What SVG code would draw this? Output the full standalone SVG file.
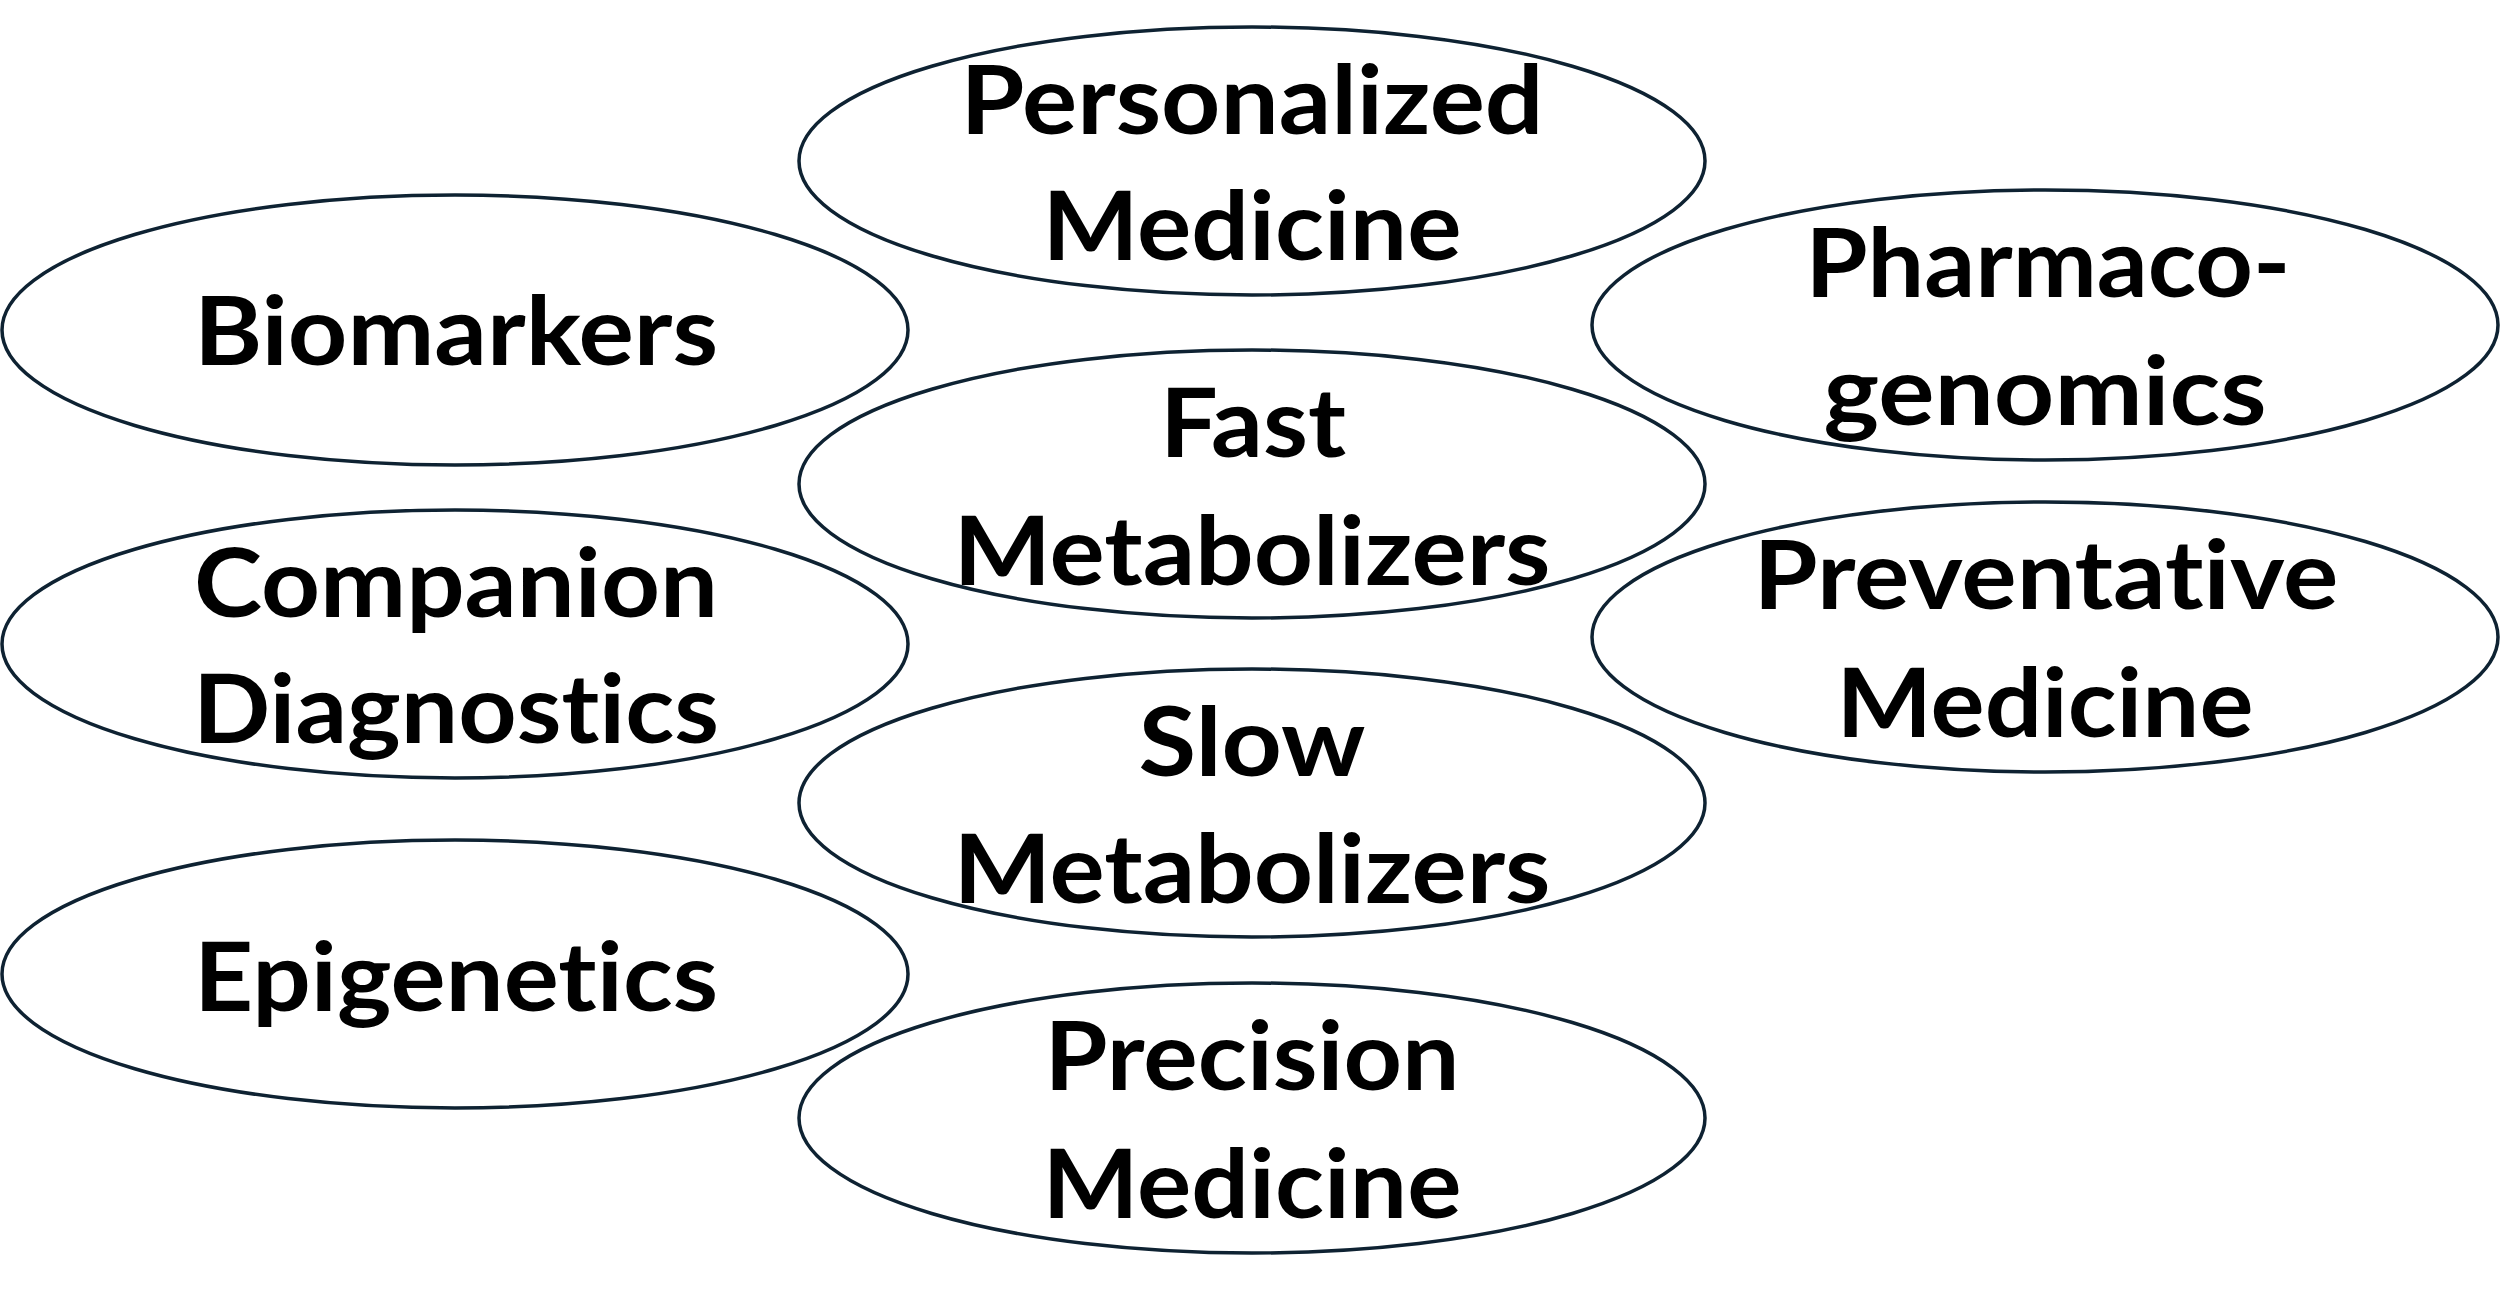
<svg xmlns="http://www.w3.org/2000/svg" width="2500" height="1311" viewBox="0 0 2500 1311">
<style>
.n ellipse{fill:#ffffff;stroke:#0e2232;stroke-width:3.5}
.n text{font-family:Lato,"Liberation Sans",sans-serif;font-weight:bold;font-size:95px;fill:#000000;text-anchor:middle;font-variant-ligatures:none;font-feature-settings:"liga" 0,"clig" 0,"dlig" 0}
</style>
<rect width="2500" height="1311" fill="#ffffff"/>
<g id="connectors"></g>
<g id="personalized" class="n">
<ellipse cx="1252" cy="161" rx="453" ry="134"/>
<text x="1252" y="134" textLength="583" lengthAdjust="spacingAndGlyphs">Personalized</text>
<text x="1252" y="260" textLength="419" lengthAdjust="spacingAndGlyphs">Medicine</text>
</g>
<g id="biomarkers" class="n">
<ellipse cx="455" cy="330" rx="453" ry="135"/>
<text x="456" y="365" textLength="524" lengthAdjust="spacingAndGlyphs">Biomarkers</text>
</g>
<g id="pharmacogenomics" class="n">
<ellipse cx="2045" cy="325" rx="453" ry="135"/>
<text x="2048" y="297" textLength="485" lengthAdjust="spacingAndGlyphs">Pharmaco-</text>
<text x="2045" y="425" textLength="443" lengthAdjust="spacingAndGlyphs">genomics</text>
</g>
<g id="fast" class="n">
<ellipse cx="1252" cy="484" rx="453" ry="134"/>
<text x="1253" y="457" textLength="186" lengthAdjust="spacingAndGlyphs">Fast</text>
<text x="1252" y="585" textLength="597" lengthAdjust="spacingAndGlyphs">Metabolizers</text>
</g>
<g id="companion" class="n">
<ellipse cx="455" cy="644" rx="453" ry="134"/>
<text x="456" y="617" textLength="524" lengthAdjust="spacingAndGlyphs">Companion</text>
<text x="456" y="743" textLength="526" lengthAdjust="spacingAndGlyphs">Diagnostics</text>
</g>
<g id="preventative" class="n">
<ellipse cx="2045" cy="637" rx="453" ry="135"/>
<text x="2046" y="609" textLength="585" lengthAdjust="spacingAndGlyphs">Preventative</text>
<text x="2045" y="737" textLength="417" lengthAdjust="spacingAndGlyphs">Medicine</text>
</g>
<g id="slow" class="n">
<ellipse cx="1252" cy="803" rx="453" ry="134"/>
<text x="1252" y="776" textLength="227" lengthAdjust="spacingAndGlyphs">Slow</text>
<text x="1252" y="903" textLength="597" lengthAdjust="spacingAndGlyphs">Metabolizers</text>
</g>
<g id="epigenetics" class="n">
<ellipse cx="455" cy="974" rx="453" ry="134"/>
<text x="456" y="1011" textLength="524" lengthAdjust="spacingAndGlyphs">Epigenetics</text>
</g>
<g id="precision" class="n">
<ellipse cx="1252" cy="1118" rx="453" ry="135"/>
<text x="1252" y="1090" textLength="415" lengthAdjust="spacingAndGlyphs">Precision</text>
<text x="1252" y="1218" textLength="419" lengthAdjust="spacingAndGlyphs">Medicine</text>
</g>
</svg>
